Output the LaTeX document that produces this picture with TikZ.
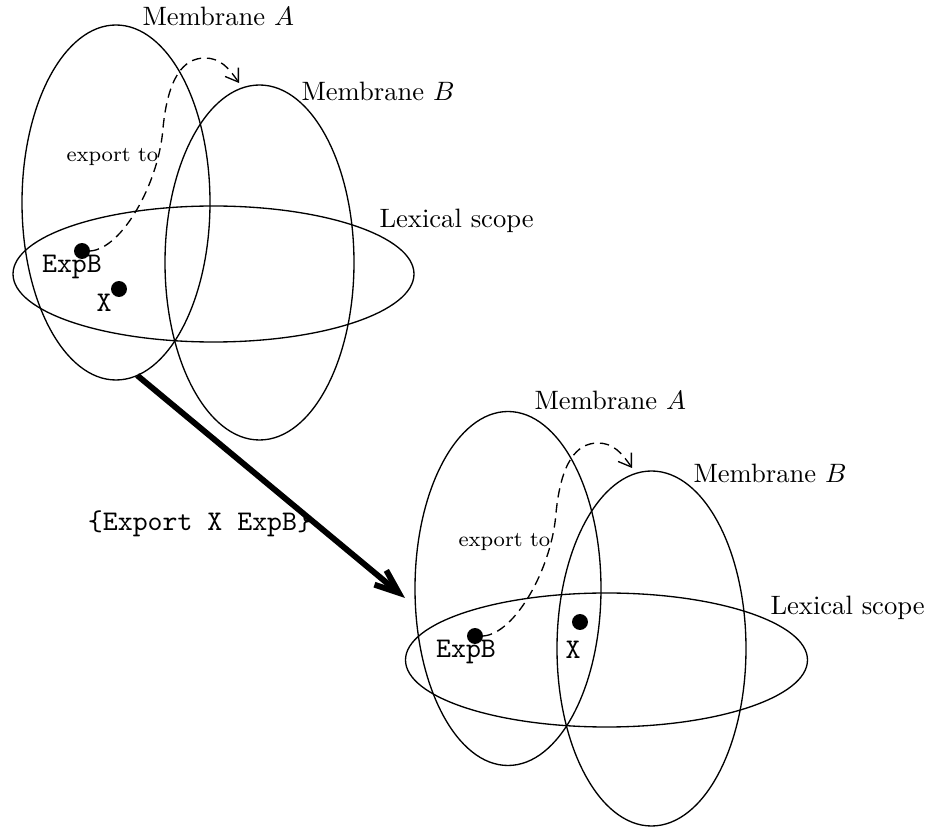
\documentclass[tikz,border=0pt]{standalone}
\usepackage{fontspec}
\usetikzlibrary{shapes.geometric,arrows.meta}
\def\pu{0.01321cm}
\begin{document}
\begin{tikzpicture}[x=\pu,y=-\pu,
  memb/.style={draw,ellipse,line width=0.5pt,inner sep=0pt,outer sep=0pt},
  dotnode/.style={circle,fill=black,inner sep=0pt,outer sep=0pt,minimum size=6pt},
  lbl/.style={anchor=base west,inner sep=0pt},
  ttl/.style={anchor=base,inner sep=0pt,font=\ttfamily\fontsize{10.7}{13}\selectfont},
  exl/.style={anchor=base west,inner sep=0pt,font=\footnotesize},
  flow/.style={dash pattern=on 3.5pt off 2.2pt,line width=0.5pt,-{Straight Barb[length=4.5pt,width=6pt]}},
  bigarrow/.style={line width=2.2pt,-{Straight Barb[length=9pt,width=7pt]}}]
\useasboundingbox (0,0) rectangle (931,827);
% ---- top group ----
\node[memb,minimum width={188*\pu},minimum height={355*\pu}] (mA) at (116,202.5) {};
\node[memb,minimum width={189*\pu},minimum height={355*\pu}] (mB) at (259.5,262.5) {};
\node[memb,minimum width={401*\pu},minimum height={136*\pu}] (lex) at (213.5,274) {};
\node[lbl] (tA) at (142,26) {Membrane $A$};
\node[lbl] (tB) at (301,101) {Membrane $B$};
\node[lbl] (tL) at (379,228) {Lexical scope};
\node[exl] (tE) at (66,162) {export to};
\node[dotnode] (e1) at (82,251) {};
\node[dotnode] (x1) at (119,289) {};
\node[ttl] (le1) at (72,273) {ExpB};
\node[ttl] (lx1) at (104,312) {X};
\coordinate (end1) at (239,83);
\draw[flow] (e1.east) .. controls +(32,-2) and +(-4,55) .. (163,128)
  .. controls +(5,-50) and +(-22,0) .. (205,58)
  .. controls +(15,0) and +(-10,-15) .. (end1);
% ---- transition arrow ----
\coordinate (tip) at (405,598);
\draw[bigarrow] (mA.-83) -- (tip);
\node[ttl] (cmd) at (200,531) {\{Export X ExpB\}};
% ---- bottom group ----
\node[memb,minimum width={186*\pu},minimum height={354*\pu}] (mA2) at (508,588.5) {};
\node[memb,minimum width={189*\pu},minimum height={355*\pu}] (mB2) at (651.5,648.5) {};
\node[memb,minimum width={402*\pu},minimum height={134*\pu}] (lex2) at (606.5,660) {};
\node[lbl] (tA2) at (534,410) {Membrane $A$};
\node[lbl] (tB2) at (693,483) {Membrane $B$};
\node[lbl] (tL2) at (770,615) {Lexical scope};
\node[exl] (tE2) at (458,547) {export to};
\node[dotnode] (e2) at (475,636) {};
\node[dotnode] (x2) at (580,622) {};
\node[ttl] (le2) at (466,658) {ExpB};
\node[ttl] (lx2) at (573,659) {X};
\coordinate (end2) at (632,468);
\draw[flow] (e2.east) .. controls +(32,-2) and +(-4,55) .. (556,513)
  .. controls +(5,-50) and +(-22,0) .. (598,443)
  .. controls +(15,0) and +(-10,-15) .. (end2);
\end{tikzpicture}
\end{document}
